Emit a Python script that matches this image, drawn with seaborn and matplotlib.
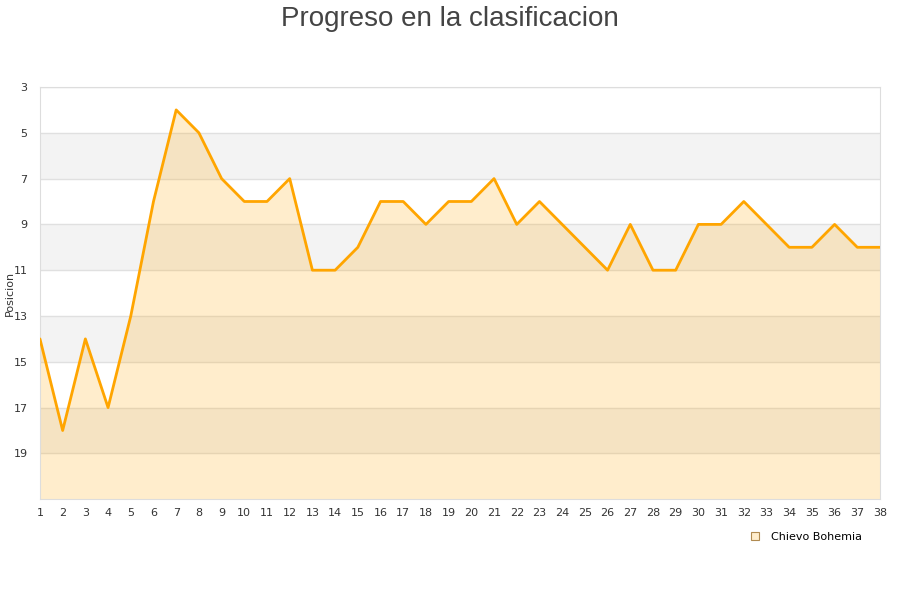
import pandas as pd
import seaborn as sns
import matplotlib.pyplot as plt

# Jornada vs posicion en la tabla
jornadas = list(range(1, 39))
posiciones = [14, 18, 14, 17, 13, 8, 4, 5, 7, 8, 8, 7, 11, 11, 10, 8, 8, 9, 8, 8,
              7, 9, 8, 9, 10, 11, 9, 11, 11, 9, 9, 8, 9, 10, 10, 9, 10, 10]
equipo = "Chievo Bohemia"
y_ticks = [3, 5, 7, 9, 11, 13, 15, 17, 19]

df = pd.DataFrame({"jornada": jornadas, "posicion": posiciones})

sns.set_style("white")
plt.rcParams["font.family"] = ["DejaVu Sans"]

fig = plt.figure(figsize=(9, 6), dpi=100)
ax = fig.add_axes([0.0444, 0.168, 0.9334, 0.687])

# alternating horizontal bands
for i, lo in enumerate(range(3, 21, 2)):
    if i % 2 == 1:
        ax.axhspan(lo, lo + 2, color="#f3f3f3", zorder=0, lw=0)

ax.fill_between(df["jornada"], df["posicion"], 21, color="#ffa500", alpha=0.2,
                lw=0, zorder=1)
sns.lineplot(data=df, x="jornada", y="posicion", color="#ffa500", lw=2,
             ax=ax, zorder=3, label=equipo)

ax.set_xlim(1, 38)
ax.set_ylim(21, 3)
ax.set_xticks(jornadas)
ax.set_yticks(y_ticks)
ax.yaxis.grid(True, color="#e0e0e0", lw=1)
ax.set_axisbelow(True)
for sp in ax.spines.values():
    sp.set_color("#dddddd")
ax.tick_params(axis="both", labelsize=8, colors="#333333", length=0, pad=6)
ax.tick_params(axis="y", pad=9)
ax.set_xlabel("")
ax.set_ylabel("Posicion", fontsize=8, color="#333333")
ax.yaxis.set_label_coords(-0.03, 0.5)

handle = plt.Line2D([], [], marker="s", ls="", markersize=6,
                    markerfacecolor="#ffedcc", markeredgecolor="#b08a50", markeredgewidth=0.8)
ax.legend([handle], [equipo], loc="upper right", bbox_to_anchor=(0.99, -0.055),
          frameon=False, fontsize=8, handletextpad=0.4, labelcolor="#000000")

fig.suptitle("Progreso en la clasificacion", fontsize=20, color="#444444", y=0.99,
             family=["Liberation Sans", "DejaVu Sans"])

fig.savefig("out.png", dpi=100)
